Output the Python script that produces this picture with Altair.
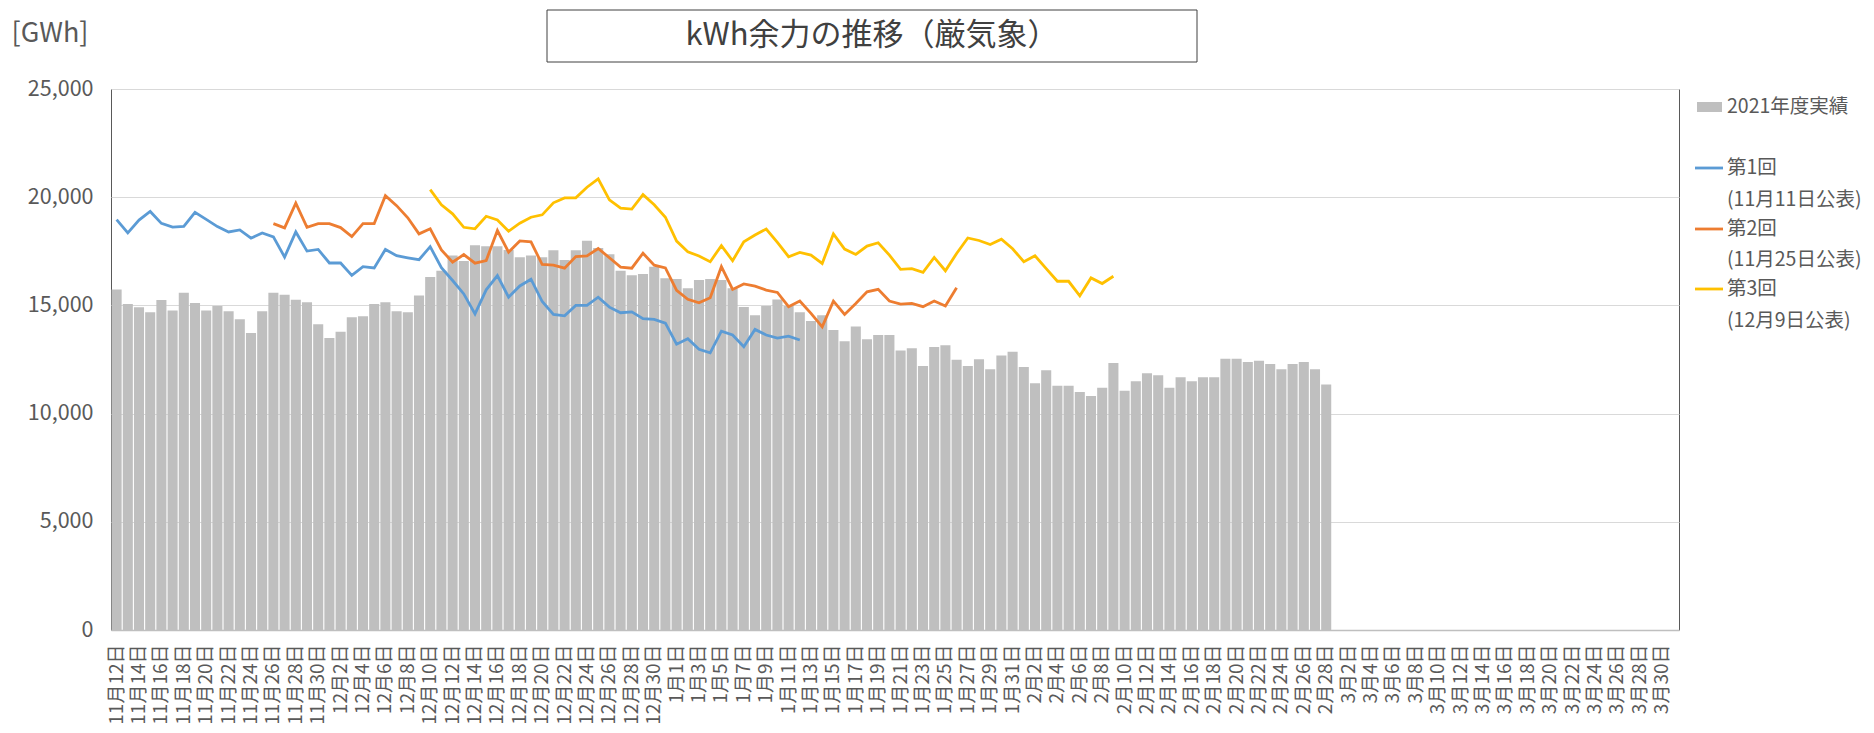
import altair as alt
import pandas as pd

# ---------------- data ----------------
dates = pd.date_range("2021-11-12", "2022-03-31", freq="D")
date_labels = [f"{d.month}月{d.day}日" for d in dates]

bar_name = "2021年度実績"
actual_2021 = [
    15730, 15060, 14910, 14680, 15250, 14770, 15580, 15110, 14770, 14970,
    14730, 14360, 13730, 14730, 15580, 15490, 15260, 15150, 14130, 13490,
    13780, 14450, 14500, 15060, 15150, 14730, 14680, 15460, 16310, 16600,
    17310, 17050, 17780, 17730, 17730, 17560, 17220, 17310, 17220, 17545,
    17100, 17545, 17990, 17650, 17360, 16600, 16390, 16450, 16790, 16250,
    16220, 15790, 16170, 16220, 16170, 15790, 14930, 14540, 14970, 15270,
    14970, 14680, 14280, 14540, 13860, 13340, 14020, 13430, 13630, 13630,
    12920, 13020, 12200, 13080, 13160, 12490, 12200, 12510, 12050, 12690,
    12860, 12150, 11400, 12000, 11290, 11290, 11000, 10810, 11200, 12340,
    11060, 11490, 11860, 11770, 11200, 11680, 11490, 11680, 11680, 12540,
    12540, 12390, 12440, 12290, 12050, 12290, 12390, 12050, 11340,
]

series_names = ["第1回", "第2回", "第3回"]
series_notes = ["(11月11日公表)", "(11月25日公表)", "(12月9日公表)"]
series_starts = ["11月12日", "11月26日", "12月10日"]

forecast_1 = [
    18960, 18350, 18945, 19340, 18790, 18620, 18655, 19300, 18975, 18640,
    18395, 18485, 18105, 18350, 18165, 17235, 18395, 17510, 17585, 16960,
    16960, 16390, 16790, 16730, 17585, 17300, 17200, 17110, 17715, 16740,
    16150, 15530, 14610, 15720, 16380, 15380, 15900, 16210, 15180, 14580,
    14520, 15000, 15000, 15380, 14920, 14660, 14700, 14390, 14350, 14180,
    13210, 13460, 12970, 12810, 13810, 13630, 13090, 13890, 13630, 13490,
    13580, 13400,
]
forecast_2 = [
    18780, 18580, 19725, 18610, 18780, 18780, 18595, 18180, 18780, 18780,
    20070, 19610, 19050, 18305, 18540, 17560, 17000, 17350, 16950, 17075,
    18460, 17460, 17980, 17935, 16890, 16860, 16720, 17260, 17290, 17630,
    17200, 16770, 16720, 17410, 16860, 16735, 15700, 15280, 15120, 15350,
    16790, 15740, 15990, 15890, 15710, 15600, 14940, 15200, 14630, 14010,
    15200, 14580, 15090, 15630, 15740, 15200, 15060, 15090, 14940, 15200,
    14970, 15820,
]
forecast_3 = [
    20350, 19650, 19230, 18610, 18540, 19120, 18950, 18430, 18800, 19075,
    19185, 19740, 19970, 19970, 20460, 20850, 19880, 19490, 19450, 20120,
    19650, 19075, 17970, 17480, 17280, 17020, 17760, 17065, 17940, 18250,
    18530, 17910, 17250, 17450, 17325, 16940, 18300, 17600, 17355, 17740,
    17895, 17325, 16665, 16695, 16525, 17215, 16600, 17400, 18115, 18000,
    17815, 18060, 17615, 17020, 17295, 16700, 16115, 16115, 15445, 16270,
    16010, 16345,
]
forecasts = [forecast_1, forecast_2, forecast_3]

y_ticks = [0, 5000, 10000, 15000, 20000, 25000]
title_text = "kWh余力の推移（厳気象）"
unit_text = "[GWh]"

line_colors = ["#5B9BD5", "#ED7D31", "#FFC000"]
bar_color = "#BFBFBF"
text_color = "#595959"
FONT = "Noto Sans CJK JP"

# ---------------- tables ----------------
bars_df = pd.DataFrame({"date": date_labels[:len(actual_2021)], "value": actual_2021})

rows = []
for name, start, vals in zip(series_names, series_starts, forecasts):
    s = date_labels.index(start)
    for k, v in enumerate(vals):
        rows.append({"date": date_labels[s + k], "value": v, "series": name})
lines_df = pd.DataFrame(rows)

# ---------------- encodings ----------------
x_enc = alt.X(
    "date:N",
    sort=date_labels,
    scale=alt.Scale(domain=date_labels, paddingInner=0.1, paddingOuter=0.05),
    axis=alt.Axis(
        values=date_labels[::2], labelAngle=270, ticks=False, grid=False,
        domain=True, domainColor="#BFBFBF", domainWidth=1.5,
        labelPadding=14, labelFontSize=19, labelColor=text_color,
        labelFont=FONT, labelOverlap=False, labelBound=False, title=None,
    ),
)
y_enc = alt.Y(
    "value:Q",
    scale=alt.Scale(domain=[0, 25000], nice=False),
    axis=alt.Axis(
        values=y_ticks, format=",d", ticks=False, domain=False, grid=True,
        gridColor="#D9D9D9", gridWidth=1, labelPadding=18, labelFontSize=21.5,
        labelColor=text_color, labelFont=FONT, title=None,
    ),
)

bars = alt.Chart(bars_df).mark_bar(color=bar_color).encode(x=x_enc, y=y_enc)

lines = alt.Chart(lines_df).mark_line(strokeWidth=2.8).encode(
    x=x_enc,
    y=y_enc,
    color=alt.Color("series:N", scale=alt.Scale(domain=series_names, range=line_colors), legend=None),
)

# ---------------- decorations ----------------
def one(text):
    return pd.DataFrame({"t": [text]})

title_box = alt.Chart(one(title_text)).mark_rect(
    fill="white", stroke="#404040", strokeWidth=1
).encode(x=alt.value(436), x2=alt.value(1086), y=alt.value(-79), y2=alt.value(-27))

title = alt.Chart(one(title_text)).mark_text(
    fontSize=31, font=FONT, color="#404040", align="center", baseline="middle"
).encode(text="t:N", x=alt.value(761), y=alt.value(-53))

unit = alt.Chart(one(unit_text)).mark_text(
    fontSize=27, font=FONT, color=text_color, align="center", baseline="middle"
).encode(text="t:N", x=alt.value(-61), y=alt.value(-55))

LEG_FS = 19.5
legend_layers = []
legend_layers.append(
    alt.Chart(one(bar_name)).mark_rect(fill=bar_color).encode(
        x=alt.value(1586), x2=alt.value(1611), y=alt.value(13), y2=alt.value(23)
    )
)
legend_layers.append(
    alt.Chart(one(bar_name)).mark_text(
        fontSize=LEG_FS, font=FONT, color=text_color, align="left", baseline="middle"
    ).encode(text="t:N", x=alt.value(1616), y=alt.value(18))
)
line_ys = [79, 140, 200]
note_ys = [111, 171, 232]
for name, note, col, ly, ny in zip(series_names, series_notes, line_colors, line_ys, note_ys):
    legend_layers.append(
        alt.Chart(one(name)).mark_rule(color=col, strokeWidth=2.8).encode(
            x=alt.value(1584), x2=alt.value(1612), y=alt.value(ly)
        )
    )
    legend_layers.append(
        alt.Chart(one(name)).mark_text(
            fontSize=LEG_FS, font=FONT, color=text_color, align="left", baseline="middle"
        ).encode(text="t:N", x=alt.value(1616), y=alt.value(ly))
    )
    legend_layers.append(
        alt.Chart(one(note)).mark_text(
            fontSize=LEG_FS, font=FONT, color=text_color, align="left", baseline="middle"
        ).encode(text="t:N", x=alt.value(1616), y=alt.value(ny))
    )

chart = alt.layer(bars, lines, title_box, title, unit, *legend_layers).properties(
    width=1568,
    height=541,
    autosize=alt.AutoSizeParams(type="none"),
    padding={"left": 103, "top": 81, "right": 187, "bottom": 95},
    background="white",
).configure_view(stroke="#595959", strokeWidth=1)

chart.save("out.html", embed_options={"renderer": "svg", "actions": False})
